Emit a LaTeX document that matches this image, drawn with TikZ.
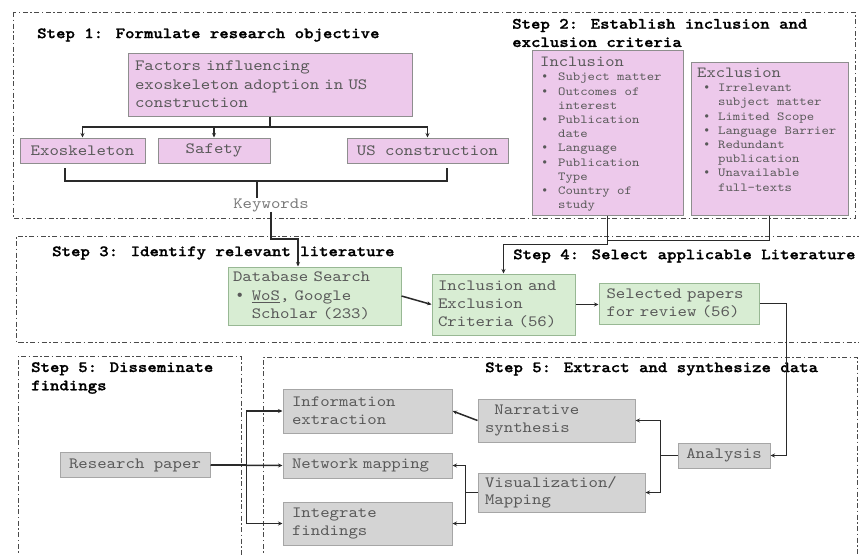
\documentclass[tikz,border=0pt]{standalone}
\usepackage{fontspec}
% typewriter face, widened to a 0.6em advance
\setmainfont{lmmono10-regular.otf}[FakeStretch=1.143, BoldFont=lmmonolt10-bold.otf,
  BoldFeatures={FakeBold=1.2}]
\newfontfamily\bulfont{Liberation Mono}
\usetikzlibrary{arrows.meta,calc}

\definecolor{pinkfill}{HTML}{EDC9EB}
\definecolor{pinkline}{HTML}{8E8E8E}
\definecolor{greenfill}{HTML}{D8EDD3}
\definecolor{greenline}{HTML}{98B894}
\definecolor{grayfill}{HTML}{D4D4D4}
\definecolor{grayline}{HTML}{A6A6A6}
\definecolor{boxtext}{HTML}{595959}
\definecolor{wire}{HTML}{2A2A2A}
\definecolor{kwtext}{HTML}{7A7A7A}

\newcommand{\mainsz}{\fontsize{15.7}{18.3}\selectfont}
\newcommand{\listsz}{\fontsize{12.3}{14.2}\selectfont}
\newcommand{\bul}{{\bulfont\textbullet}}

\begin{document}
\begin{tikzpicture}[x=1pt,y=-1pt,
  frame/.style={draw=wire!85, line width=1pt,
    dash pattern=on 5pt off 2.5pt on 1.5pt off 2.5pt},
  title/.style={font=\mainsz\bfseries, text=black, inner sep=0pt, align=left},
  box/.style={rectangle, line width=1pt, inner ysep=0pt, text=boxtext,
    font=\mainsz},
  pinkbox/.style={box, draw=pinkline, fill=pinkfill},
  greenbox/.style={box, draw=greenline, fill=greenfill, align=left},
  graybox/.style={box, draw=grayline, fill=grayfill, align=left},
  plain/.style={inner sep=0pt, text=boxtext},
  wireline/.style={draw=wire, line width=1.5pt},
  arr/.style={wireline, -{Stealth[length=4.5pt,width=4pt]}}]

\useasboundingbox[fill=white] (0,0) rectangle (859,554);

% dash-dot frames of the five steps
\draw[frame] (13,12) rectangle (855,218);
\draw[frame] (862,236) -- (16,236) -- (16,342) -- (862,342);
\draw[frame] (18,560) -- (18,356) -- (241,356) -- (241,560);
\draw[frame] (263,560) -- (263,357) -- (857,357) -- (857,560);

% step titles
\node[title, anchor=west] (t1) at (37,35) {Step 1: Formulate research objective};
\node[title, anchor=west] (t2) at (512,33) {Step 2: Establish inclusion and\\exclusion criteria};
\node[title, anchor=west] (t3) at (52,253) {Step 3: Identify relevant literature};
\node[title, anchor=west] (t4) at (513,256) {Step 4: Select applicable Literature};
\node[title, anchor=west] (t5a) at (31,378) {Step 5: Disseminate\\findings};
\node[title, anchor=west] (t5b) at (485,369) {Step 5: Extract and synthesize data};

% step 1
\node[pinkbox, minimum width=284pt, minimum height=63pt, text width=270pt,
  inner xsep=7pt, align=left] (fac) at (270,84.5)
  {Factors influencing\\exoskeleton adoption in US\\construction};
\node[pinkbox, minimum width=125pt, minimum height=25pt] (exo) at (82.5,150.5) {Exoskeleton};
\node[pinkbox, minimum width=112pt, minimum height=25pt] (saf) at (214,150.5) {Safety};
\node[pinkbox, minimum width=161pt, minimum height=25pt] (usc) at (427.5,150.5) {US construction};
\node[font=\mainsz, text=kwtext, inner sep=0pt] (kw) at (271,205) {Keywords};

\draw[wireline] (fac.south) -- ++(0,10.5) coordinate (facj);
\draw[arr] (facj) -| (exo.north);
\draw[arr] (facj) -| (saf.north);
\draw[arr] (facj) -| (usc.north);

\coordinate (brL) at (65,168);
\coordinate (brR) at (447,168);
\coordinate (brM) at (257,181);
\draw[wireline] (brL) -- (brL |- brM) -- (brR |- brM) -- (brR);
\draw[wireline] (brM) -- (brM |- kw.north);

% step 2
\node[pinkbox, minimum width=151pt, minimum height=165pt] (incl) at (607.5,132.5) {};
\node[plain, anchor=west, font=\fontsize{15.5}{17}\selectfont] (inclh) at (540,62) {Inclusion};
\node[plain, anchor=north west, align=left, font=\listsz] (incll) at (541,73)
  {\makebox[17pt][l]{\bul}Subject matter\\
   \makebox[17pt][l]{\bul}Outcomes of\\
   \hspace*{17pt}interest\\
   \makebox[17pt][l]{\bul}Publication\\
   \hspace*{17pt}date\\
   \makebox[17pt][l]{\bul}Language\\
   \makebox[17pt][l]{\bul}Publication\\
   \hspace*{17pt}Type\\
   \makebox[17pt][l]{\bul}Country of\\
   \hspace*{17pt}study};

\node[pinkbox, minimum width=157pt, minimum height=153pt] (excl) at (769.5,138.5) {};
\node[plain, anchor=west, font=\fontsize{15.5}{17}\selectfont] (exclh) at (697,73) {Exclusion};
\node[plain, anchor=north west, align=left, font=\listsz] (excll) at (703,84)
  {\makebox[15pt][l]{\bul}Irrelevant\\
   \hspace*{15pt}subject matter\\
   \makebox[15pt][l]{\bul}Limited Scope\\
   \makebox[15pt][l]{\bul}Language Barrier\\
   \makebox[15pt][l]{\bul}Redundant\\
   \hspace*{15pt}publication\\
   \makebox[15pt][l]{\bul}Unavailable\\
   \hspace*{15pt}full-texts};

% steps 3 and 4
\node[greenbox, minimum width=173pt, minimum height=58pt, text width=163pt,
  inner xsep=5pt] (db) at (314.5,296)
  {Database Search\\\makebox[18.8pt][l]{\hspace{2pt}\bul}\underline{WoS}, Google\\\hspace*{18.8pt}Scholar (233)};
\node[greenbox, minimum width=143pt, minimum height=61pt, text width=131pt,
  inner xsep=6pt] (ie) at (503.5,304.5)
  {Inclusion and\\Exclusion\\Criteria (56)};
\node[greenbox, minimum width=160pt, minimum height=41pt, text width=145pt,
  inner xsep=7.5pt] (sel) at (679,303.5)
  {Selected papers\\for review (56)};

\coordinate (dbin) at (298,239);
\draw[arr] (kw.south) |- (dbin) -- (dbin |- db.north);
\draw[arr] (incl.south) -- ++(0,29) -| (ie.north);
\draw[wireline] (excl.south) |- ($(incl.south)+(0,25)$);
\draw[arr] (db.east) -- (ie.west);
\draw[arr] (ie.east) -- (sel.west |- ie.east);

% step 5
\node[graybox, minimum width=150pt, minimum height=25pt, align=center] (rp) at (135,465) {Research paper};
\node[graybox, minimum width=169pt, minimum height=44pt, text width=151pt,
  inner xsep=9pt] (info) at (367.5,411) {Information\\extraction};
\node[graybox, minimum width=169pt, minimum height=25pt, text width=151pt,
  inner xsep=9pt] (net) at (367.5,465.5) {Network mapping};
\node[graybox, minimum width=169pt, minimum height=43pt, text width=151pt,
  inner xsep=9pt] (int) at (367.5,523.5) {Integrate\\findings};
\node[graybox, minimum width=157pt, minimum height=43pt, text width=143pt,
  inner xsep=7pt] (narr) at (556.5,420.5) {\hphantom{x}Narrative\\synthesis};
\node[graybox, minimum width=167pt, minimum height=39pt, text width=153pt,
  inner xsep=7pt, font=\fontsize{15.7}{16.5}\selectfont] (vis) at (561.5,492.5)
  {Visualization/\\Mapping};
\node[graybox, minimum width=92pt, minimum height=25pt, align=center] (ana) at (724,455.5) {Analysis};

\draw[arr] (sel.east) -- ++(27,0) |- (ana.east);
\draw[wireline] (ana.west) -- ++(-17,0) coordinate (aj);
\draw[arr] (aj) |- (narr.east);
\draw[arr] (aj) |- (vis.east);
\draw[arr] (narr.west) -- (info.east);
\draw[wireline] (vis.west) -- ++(-12,0) coordinate (vj);
\draw[arr] (vj) |- (net.east);
\draw[arr] (vj) |- (int.east);
\draw[wireline] (rp.east) -- ++(36,0) coordinate (rj);
\draw[arr] (rj) |- (info.west);
\draw[arr] (rj) |- (int.west);
\draw[arr] (rp.east) -- (net.west);

\end{tikzpicture}
\end{document}
